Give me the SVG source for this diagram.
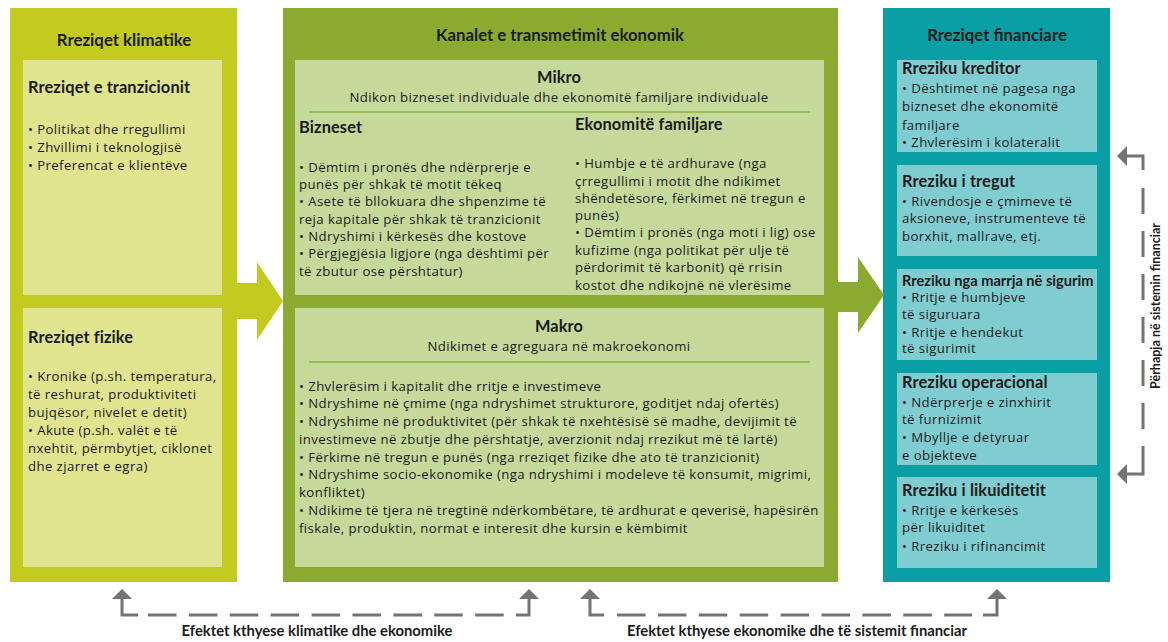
<svg xmlns="http://www.w3.org/2000/svg" width="1168" height="642" viewBox="0 0 1168 642">
<style>
text{font-family:Lato,"Open Sans","Liberation Sans",sans-serif;fill:#1b1b1b}
.h{font-size:16.8px;font-weight:bold}
.sh{font-size:16.4px;font-weight:bold;letter-spacing:0.1px}
.r{font-family:"Open Sans","Noto Sans",sans-serif;font-size:13.2px;letter-spacing:0.4px}
.c{text-anchor:middle}
.lab{font-size:14.8px;font-weight:bold}
.rot{font-size:12.5px;font-weight:bold}
.ln{stroke:#737373;stroke-width:3;fill:none}
.dash{stroke:#737373;stroke-width:3;fill:none;stroke-dasharray:28.5 12.4}
.ah{fill:#737373}
.sep{stroke:#9cba50;stroke-width:2}
</style>
<rect width="1168" height="642" fill="#ffffff"/>

<g id="climate-risks">
<path d="M10,8 H237 V283 H257 V262 L283,301 L257,340 V319 H237 V582 H10 Z" fill="#c3cb21"/>
<text class="h c" x="124" y="46">Rreziqet klimatike</text>
<g id="transition-risks">
<rect x="23" y="60" width="199" height="235" fill="#e0e48f"/>
<text class="sh" x="28" y="93">Rreziqet e tranzicionit</text>
<text class="r" x="28" y="134">• Politikat dhe rregullimi</text>
<text class="r" x="28" y="152">• Zhvillimi i teknologjisë</text>
<text class="r" x="28" y="170">• Preferencat e klientëve</text>
</g>
<g id="physical-risks">
<rect x="23" y="308" width="199" height="259" fill="#e0e48f"/>
<text class="sh" x="28" y="343">Rreziqet fizike</text>
<text class="r" x="28" y="381">• Kronike (p.sh. temperatura,</text>
<text class="r" x="28" y="399">të reshurat, produktiviteti</text>
<text class="r" x="28" y="417">bujqësor, nivelet e detit)</text>
<text class="r" x="28" y="435">• Akute (p.sh. valët e të</text>
<text class="r" x="28" y="453">nxehtit, përmbytjet, ciklonet</text>
<text class="r" x="28" y="471">dhe zjarret e egra)</text>
</g>
</g>

<g id="transmission-channels">
<path d="M283,8 H838 V282 H858 V257 L884,295 L858,333 V312 H838 V582 H283 Z" fill="#8aab30"/>
<text class="h c" x="560" y="41">Kanalet e transmetimit ekonomik</text>
<g id="micro">
<rect x="295" y="60" width="529" height="235" fill="#c5d99b"/>
<text class="sh c" x="559" y="83">Mikro</text>
<text class="r c" x="559" y="102">Ndikon bizneset individuale dhe ekonomitë familjare individuale</text>
<line class="sep" x1="309" y1="112" x2="810" y2="112"/>
<text class="sh" x="299" y="133">Bizneset</text>
<text class="r" x="299" y="172">• Dëmtim i pronës dhe ndërprerje e</text>
<text class="r" x="299" y="189">punës për shkak të motit tëkeq</text>
<text class="r" x="299" y="206">• Asete të bllokuara dhe shpenzime të</text>
<text class="r" x="299" y="224">reja kapitale për shkak të tranzicionit</text>
<text class="r" x="299" y="241">• Ndryshimi i kërkesës dhe kostove</text>
<text class="r" x="299" y="258">• Përgjegjësia ligjore (nga dështimi për</text>
<text class="r" x="299" y="276">të zbutur ose përshtatur)</text>
<text class="sh" x="575" y="130">Ekonomitë familjare</text>
<text class="r" x="575" y="168">• Humbje e të ardhurave (nga</text>
<text class="r" x="575" y="186">çrregullimi i motit dhe ndikimet</text>
<text class="r" x="575" y="203">shëndetësore, fërkimet në tregun e</text>
<text class="r" x="575" y="220">punës)</text>
<text class="r" x="575" y="237">• Dëmtim i pronës (nga moti i lig) ose</text>
<text class="r" x="575" y="255">kufizime (nga politikat për ulje të</text>
<text class="r" x="575" y="272">përdorimit të karbonit) që rrisin</text>
<text class="r" x="575" y="290">kostot dhe ndikojnë në vlerësime</text>
</g>
<g id="macro">
<rect x="295" y="308" width="529" height="259" fill="#c5d99b"/>
<text class="sh c" x="559" y="332">Makro</text>
<text class="r c" x="559" y="351">Ndikimet e agreguara në makroekonomi</text>
<line class="sep" x1="309" y1="362" x2="810" y2="362"/>
<text class="r" x="299" y="391">• Zhvlerësim i kapitalit dhe rritje e investimeve</text>
<text class="r" x="299" y="408">• Ndryshime në çmime (nga ndryshimet strukturore, goditjet ndaj ofertës)</text>
<text class="r" x="299" y="426">• Ndryshime në produktivitet (për shkak të nxehtësisë së madhe, devijimit të</text>
<text class="r" x="299" y="444">investimeve në zbutje dhe përshtatje, averzionit ndaj rrezikut më të lartë)</text>
<text class="r" x="299" y="462">• Fërkime në tregun e punës (nga rreziqet fizike dhe ato të tranzicionit)</text>
<text class="r" x="299" y="479">• Ndryshime socio-ekonomike (nga ndryshimi i modeleve të konsumit, migrimi,</text>
<text class="r" x="299" y="497">konfliktet)</text>
<text class="r" x="299" y="515">• Ndikime të tjera në tregtinë ndërkombëtare, të ardhurat e qeverisë, hapësirën</text>
<text class="r" x="299" y="533">fiskale, produktin, normat e interesit dhe kursin e këmbimit</text>
</g>
</g>

<g id="financial-risks">
<rect x="883" y="8" width="227" height="574" fill="#0a9fa4"/>
<text class="h c" x="997" y="41">Rreziqet financiare</text>
<g id="credit-risk">
<rect x="897" y="60" width="200" height="92" fill="#80cdd1"/>
<text class="sh" x="902" y="74">Rreziku kreditor</text>
<text class="r" x="902" y="93">• Dështimet në pagesa nga</text>
<text class="r" x="902" y="111">bizneset dhe ekonomitë</text>
<text class="r" x="902" y="130">familjare</text>
<text class="r" x="902" y="147">• Zhvlerësim i kolateralit</text>
</g>
<g id="market-risk">
<rect x="897" y="165" width="200" height="91" fill="#80cdd1"/>
<text class="sh" x="902" y="187">Rreziku i tregut</text>
<text class="r" x="902" y="206">• Rivendosje e çmimeve të</text>
<text class="r" x="902" y="223">aksioneve, instrumenteve të</text>
<text class="r" x="902" y="241">borxhit, mallrave, etj.</text>
</g>
<g id="underwriting-risk">
<rect x="897" y="269" width="200" height="91" fill="#80cdd1"/>
<text class="sh" x="902" y="286" style="font-size:14.6px;letter-spacing:0">Rreziku nga marrja në sigurim</text>
<text class="r" x="902" y="302">• Rritje e humbjeve</text>
<text class="r" x="902" y="319">të siguruara</text>
<text class="r" x="902" y="337">• Rritje e hendekut</text>
<text class="r" x="902" y="353">të sigurimit</text>
</g>
<g id="operational-risk">
<rect x="897" y="373" width="200" height="92" fill="#80cdd1"/>
<text class="sh" x="902" y="388">Rreziku operacional</text>
<text class="r" x="902" y="407">• Ndërprerje e zinxhirit</text>
<text class="r" x="902" y="424">të furnizimit</text>
<text class="r" x="902" y="442">• Mbyllje e detyruar</text>
<text class="r" x="902" y="460">e objekteve</text>
</g>
<g id="liquidity-risk">
<rect x="897" y="477" width="200" height="91" fill="#80cdd1"/>
<text class="sh" x="902" y="496">Rreziku i likuiditetit</text>
<text class="r" x="902" y="515">• Rritje e kërkesës</text>
<text class="r" x="902" y="532">për likuiditet</text>
<text class="r" x="902" y="551">• Rreziku i rifinancimit</text>
</g>
</g>

<g id="connectors">
<path class="ln" d="M122,598 V615 H138"/>
<path class="dash" d="M148,615 H505"/>
<path class="ln" d="M516,615 H529 V598"/>
<polygon class="ah" points="112,599 122,589 132,599"/>
<polygon class="ah" points="519,599 529,589 539,599"/>
<text class="lab c" x="317" y="636">Efektet kthyese klimatike dhe ekonomike</text>

<path class="ln" d="M590,598 V615 H604"/>
<path class="dash" d="M617,615 H972"/>
<path class="ln" d="M983,615 H997 V598"/>
<polygon class="ah" points="580,599 590,589 600,599"/>
<polygon class="ah" points="987,599 997,589 1007,599"/>
<text class="lab c" x="797" y="636">Efektet kthyese ekonomike dhe të sistemit financiar</text>

<path class="ln" d="M1126,156 H1143 V170"/>
<path class="dash" d="M1143,188 V432" style="stroke-dasharray:26 17"/>
<path class="ln" d="M1143,446 V474 H1126"/>
<polygon class="ah" points="1127,146 1117,156 1127,166"/>
<polygon class="ah" points="1127,464 1117,474 1127,484"/>
<text class="rot c" transform="translate(1160,306) rotate(-90)">Përhapja në sistemin financiar</text>
</g>
</svg>
